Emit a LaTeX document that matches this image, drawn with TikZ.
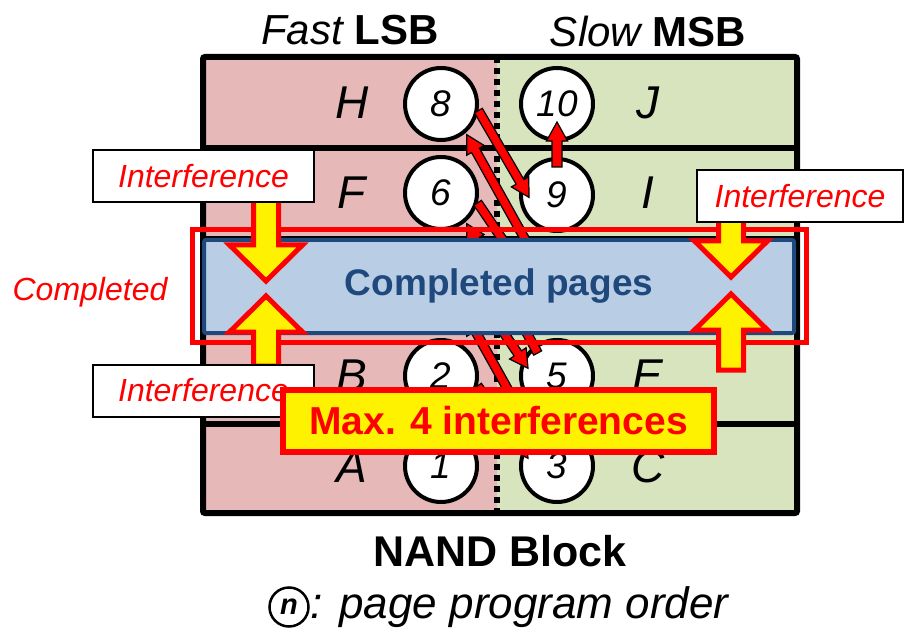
\documentclass[tikz,border=0pt]{standalone}
\usepackage{fontspec}
\setmainfont{Liberation Sans}
\usetikzlibrary{calc}

\definecolor{lsbpink}{HTML}{E6B9B8}
\definecolor{msbgreen}{HTML}{D7E4BD}
\definecolor{pageblue}{HTML}{B9CDE5}
\definecolor{pagedark}{HTML}{1F497D}

% block arrow: style, tail, tip, half shaft, half head, head length
\newcommand{\blockarrow}[6]{%
  \path (#2) coordinate (baTail) (#3) coordinate (baTip);
  \path ($(baTip)!#6!(baTail)$) coordinate (baHead);
  \draw[#1] ($(baTail)!#4!90:(baTip)$) -- ($(baHead)!#4!-90:(baTail)$)
    -- ($(baHead)!#5!-90:(baTail)$) -- (baTip)
    -- ($(baHead)!#5!90:(baTail)$) -- ($(baHead)!#4!90:(baTail)$)
    -- ($(baTail)!#4!-90:(baTip)$) -- cycle;
}

\begin{document}
\begin{tikzpicture}[x=1pt,y=-1pt,
  every node/.style={font=\fontsize{32}{38}\selectfont},
  page/.style={circle, draw, line width=4pt, fill=white, minimum size=72pt,
    inner sep=0pt, font=\fontsize{37}{42}\selectfont\itshape},
  cell/.style={font=\fontsize{46}{52}\selectfont\itshape},
  note/.style={draw, line width=2pt, fill=white, minimum height=52pt, inner sep=0pt,
    text=red, font=\fontsize{32}{38}\selectfont\itshape},
  flowarrow/.style={fill=red, draw=black, line width=1.2pt, line join=miter},
  hitarrow/.style={fill=yellow, draw=red, line width=5pt, line join=miter}]
\useasboundingbox (0,0) rectangle (907,636);

% the block: LSB half, MSB half, word lines
\fill[lsbpink] (203,57) rectangle (497,513);
\fill[msbgreen] (497,57) rectangle (797,513);
\draw[black, line width=6pt, dash pattern=on 6pt off 5pt] (497,57) -- (497,513);
\foreach \y in {148,239,331,424}
  \draw[line width=6pt] (203,\y) -- (797,\y);
\draw[line width=6pt, rounded corners=2pt] (203,57) rectangle (797,513);

\node[font=\fontsize{42}{48}\selectfont] (lsb) at (350,30) {{\itshape Fast} {\bfseries LSB}};
\node[font=\fontsize{42}{48}\selectfont] (msb) at (648,31) {{\itshape Slow} {\bfseries MSB}};

% page names
\foreach \n/\y in {H/103,F/193,B/376,A/467}
  \node[cell] (left\n) at (352,\y) {\n};
\foreach \n/\y in {J/103,I/193,E/376,C/467}
  \node[cell] (right\n) at (648,\y) {\n};

% pages with their program order
\node[page] (c8) at (441,104) {8};
\node[page] (c10) at (557,104) {10};
\node[page] (c6) at (441,193) {6};
\node[page] (c9) at (557,195) {9};
\node[page] (c2) at (441,376) {2};
\node[page] (c5) at (557,376) {5};
\node[page] (c1) at (441,466) {1};
\node[page] (c3) at (557,466) {3};
\coordinate (c4) at (441,285);
\coordinate (c7) at (557,285);

\blockarrow{flowarrow}{$(c1)+(-90:34)$}{$(c2)+(90:30)$}{4.5pt}{10pt}{18pt}
\blockarrow{flowarrow}{$(c2)+(15:38)$}{$(c3)+(-165:30)$}{4.5pt}{10pt}{18pt}
\blockarrow{flowarrow}{$(c3)+(-130:30)$}{$(c4)+(50:40)$}{4.5pt}{10pt}{18pt}
\blockarrow{flowarrow}{$(c4)+(15:38)$}{$(c5)+(-165:30)$}{4.5pt}{10pt}{18pt}
\blockarrow{flowarrow}{$(c5)+(-130:30)$}{$(c6)+(50:40)$}{4.5pt}{10pt}{18pt}
\blockarrow{flowarrow}{$(c6)+(15:38)$}{$(c7)+(-165:30)$}{4.5pt}{10pt}{18pt}
\blockarrow{flowarrow}{$(c7)+(-130:30)$}{$(c8)+(50:40)$}{4.5pt}{10pt}{18pt}
\blockarrow{flowarrow}{$(c8)+(10:38)$}{$(c9)+(175:28)$}{4.5pt}{10pt}{18pt}
\blockarrow{flowarrow}{$(c9)+(-90:28)$}{$(c10)+(90:18)$}{5pt}{10.5pt}{19pt}

% completed word line in the middle
\node[draw=pagedark, fill=pageblue, line width=4pt, minimum width=590pt,
  minimum height=93pt, inner sep=0pt, rounded corners=2pt, text=pagedark,
  font=\fontsize{37}{44}\selectfont\bfseries] (pages) at (499,286.5) {Completed pages};
\draw[red, line width=5pt] ($(pages.north west)+(-10,-8)$) rectangle ($(pages.south east)+(10,7)$);
\node[text=red, font=\fontsize{32}{38}\selectfont\itshape] (donelabel) at (90,292) {Completed};

% interference from the neighbours
\coordinate (tailTL) at (266,200);
\coordinate (tailBL) at (266,366);
\coordinate (tailTR) at (731,220);
\coordinate (tailBR) at (731,370);
\coordinate (hitTL) at (266,281);
\coordinate (hitBL) at (266,296);
\coordinate (hitTR) at (731,277);
\coordinate (hitBR) at (731,294);
\blockarrow{hitarrow}{tailTL}{hitTL}{12.5pt}{36.5pt}{36pt}
\blockarrow{hitarrow}{tailBL}{hitBL}{12.5pt}{36.5pt}{36pt}
\blockarrow{hitarrow}{tailTR}{hitTR}{12.5pt}{36.5pt}{36pt}
\blockarrow{hitarrow}{tailBR}{hitBR}{12.5pt}{36.5pt}{36pt}
\node[note, minimum width=221pt] (intfTL) at (203.5,176) {Interference};
\node[note, minimum width=221pt] (intfBL) at (203.5,390.5) {Interference};
\node[note, minimum width=206pt] (intfR) at (800,196) {Interference};

\node[draw=red, fill=yellow, line width=6pt, minimum width=431pt, minimum height=62pt,
  inner sep=0pt, text=red, font=\fontsize{39}{46}\selectfont\bfseries] (maxnote) at (498.5,421) {Max. 4 interferences};

\node[font=\fontsize{43}{50}\selectfont\bfseries] (block) at (500,551) {NAND Block};
\node[circle, draw, line width=2.5pt, minimum size=39pt, inner sep=0pt,
  font=\fontsize{29}{32}\selectfont\itshape\bfseries] (key) at (289,607) {n};
\node[anchor=west, inner sep=0pt, font=\fontsize{44}{50}\selectfont\itshape] (keytext) at ([xshift=1pt]key.east) {: page program order};
\end{tikzpicture}
\end{document}
